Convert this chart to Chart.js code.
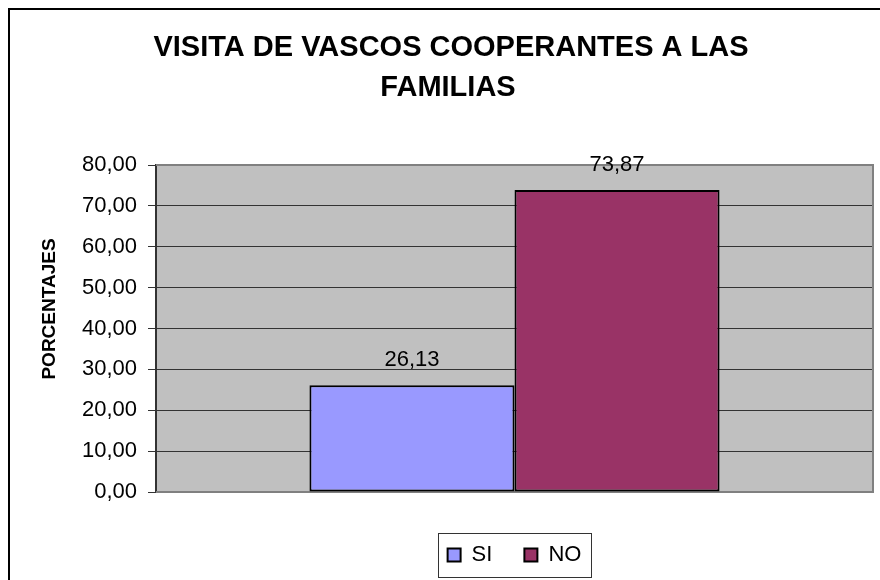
<!DOCTYPE html>
<html>
<head>
<meta charset="utf-8">
<script src="https://cdn.jsdelivr.net/npm/chart.js@4/dist/chart.umd.min.js"></script>
<style>
  html, body { margin: 0; padding: 0; background: #fff; }
  canvas { display: block; }
</style>
</head>
<body>
<canvas id="visitChart" width="880" height="580"></canvas>
<script>
// chart data
var titleLines = ['VISITA DE VASCOS COOPERANTES A LAS', 'FAMILIAS'];
var axisTitle = 'PORCENTAJES';
var categories = [''];
var seriesNames = ['SI', 'NO'];
var siValues = [26.13];
var noValues = [73.87];
var yMin = 0, yMax = 80, yStep = 10;

var FONT = '"Liberation Sans", Arial, sans-serif';

function fmt(v){
	return Number(v).toFixed(2).replace('.', ',');
}

// gray plot background
var plotBg = {
	id: 'plotBg',
	beforeDraw: function(chart){
		var a = chart.chartArea, ctx = chart.ctx;
		ctx.save();
		ctx.fillStyle = '#C0C0C0';
		ctx.fillRect(a.left, a.top, a.right - a.left, a.bottom - a.top);
		ctx.restore();
	},
	beforeDatasetsDraw: function(chart){
		var a = chart.chartArea, ctx = chart.ctx;
		ctx.save();
		ctx.strokeStyle = '#808080';
		ctx.lineWidth = 2;
		ctx.beginPath();
		ctx.moveTo(a.left, a.top);
		ctx.lineTo(a.right, a.top);
		ctx.lineTo(a.right, a.bottom);
		ctx.lineTo(a.left, a.bottom);
		ctx.stroke();
		ctx.restore();
	}
};

// value labels above bars
var valueLabels = {
	id: 'valueLabels',
	afterDatasetsDraw: function(chart){
		var ctx = chart.ctx;
		ctx.save();
		ctx.font = '22px ' + FONT;
		ctx.fillStyle = '#000';
		ctx.textAlign = 'center';
		ctx.textBaseline = 'alphabetic';
		chart.data.datasets.forEach(function(ds, i){
			chart.getDatasetMeta(i).data.forEach(function(bar, j){
				ctx.fillText(fmt(ds.data[j]), bar.x, bar.y - 19);
			});
		});
		ctx.restore();
	}
};

// title, axis title, legend frame, outer frame
var decorations = {
	id: 'decorations',
	afterDraw: function(chart){
		var ctx = chart.ctx;
		ctx.save();
		ctx.fillStyle = '#000';
		ctx.textAlign = 'center';
		ctx.textBaseline = 'middle';
		ctx.font = 'bold 29px ' + FONT;
		ctx.fillText(titleLines[0], 451, 48);
		ctx.fillText(titleLines[1], 448, 88);

		ctx.save();
		ctx.translate(50, 309);
		ctx.rotate(-Math.PI / 2);
		ctx.font = 'bold 19px ' + FONT;
		ctx.fillText(axisTitle, 0, 0);
		ctx.restore();

		var hb = chart.legend.legendHitBoxes;
		if (hb && hb.length) {
			var first = hb[0], last = hb[hb.length - 1];
			var cy = first.top + first.height / 2;
			ctx.strokeStyle = '#333';
			ctx.lineWidth = 1;
			ctx.strokeRect(Math.round(first.left - 10) + 0.5, Math.round(cy - 22) + 0.5,
				Math.round(last.left + last.width + 9 - (first.left - 10)), 44);
		}

		ctx.strokeStyle = '#000';
		ctx.lineWidth = 2;
		ctx.strokeRect(9, 9, 920, 620);
		ctx.restore();
	}
};

var ctx = document.getElementById('visitChart');

new Chart(ctx, {
	type: 'bar',
	data: {
		labels: categories,
		datasets: [
			{
				label: seriesNames[0],
				data: siValues,
				backgroundColor: '#9999FF',
				borderColor: '#000',
				borderWidth: 2,
				borderSkipped: false
			},
			{
				label: seriesNames[1],
				data: noValues,
				backgroundColor: '#993366',
				borderColor: '#000',
				borderWidth: 2,
				borderSkipped: false
			}
		]
	},
	options: {
		responsive: false,
		animation: false,
		layout: { padding: { top: 165, right: 7, bottom: 4, left: 0 } },
		datasets: { bar: { categoryPercentage: 0.572, barPercentage: 1 } },
		plugins: {
			title: { display: false },
			tooltip: { enabled: false },
			legend: {
				position: 'bottom',
				fullSize: false,
				labels: {
					boxWidth: 13,
					boxHeight: 13,
					padding: 32,
					color: '#000',
					font: { family: FONT, size: 22 }
				}
			}
		},
		scales: {
			x: {
				display: true,
				grid: { display: false },
				border: { display: false },
				ticks: { display: false },
				afterFit: function(scale){ scale.height = 20; }
			},
			y: {
				min: yMin,
				max: yMax,
				afterFit: function(scale){ scale.width = 156; },
				grid: {
					color: '#333',
					tickColor: '#333',
					tickLength: 8,
					lineWidth: 1
				},
				border: { color: '#333', width: 2 },
				ticks: {
					stepSize: yStep,
					padding: 11,
					color: '#000',
					font: { family: FONT, size: 22 },
					callback: function(v){ return fmt(v); }
				}
			}
		}
	},
	plugins: [plotBg, valueLabels, decorations]
});
</script>
</body>
</html>
